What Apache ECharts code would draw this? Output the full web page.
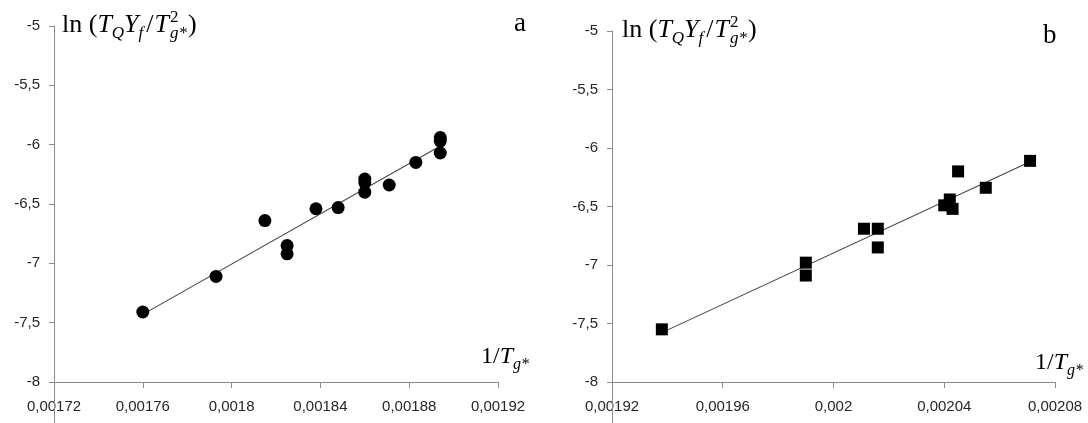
<!DOCTYPE html>
<html>
<head>
<meta charset="utf-8">
<script src="https://cdn.jsdelivr.net/npm/echarts@6/dist/echarts.min.js"></script>
<style>
html,body{margin:0;padding:0;background:#fff;}
#c{width:1088px;height:423px;}
</style>
</head>
<body>
<div id="c"></div>
<script>
// ---- data ----
var xTicksA = [0.00172, 0.00176, 0.0018, 0.00184, 0.00188, 0.00192];
var xTicksB = [0.00192, 0.00196, 0.002, 0.00204, 0.00208];
var yTicks = [-8, -7.5, -7, -6.5, -6, -5.5, -5];

var xA = [0.00176, 0.001793, 0.001815, 0.001825, 0.001825, 0.001838, 0.001848, 0.00186, 0.00186, 0.00186, 0.001871, 0.001883, 0.001894, 0.001894, 0.001894];
var yA = [-7.41, -7.11, -6.64, -6.85, -6.92, -6.54, -6.53, -6.29, -6.32, -6.40, -6.34, -6.15, -6.07, -5.94, -5.97];

var xB = [0.001938, 0.00199, 0.00199, 0.002011, 0.002016, 0.002016, 0.00204, 0.002042, 0.002043, 0.002045, 0.002055, 0.002071];
var yB = [-7.55, -6.98, -7.09, -6.69, -6.69, -6.85, -6.49, -6.44, -6.52, -6.20, -6.34, -6.11];

var panelLabels = ['a', 'b'];

// ---- helpers ----
function pairs(xs, ys) { return xs.map(function (x, i) { return [x, ys[i]]; }); }
function fitLine(xs, ys) {
  var n = xs.length, sx = 0, sy = 0, sxx = 0, sxy = 0;
  for (var i = 0; i < n; i++) { sx += xs[i]; sy += ys[i]; sxx += xs[i] * xs[i]; sxy += xs[i] * ys[i]; }
  var b = (n * sxy - sx * sy) / (n * sxx - sx * sx);
  var a = (sy - b * sx) / n;
  var x0 = Math.min.apply(null, xs), x1 = Math.max.apply(null, xs);
  return [[x0, a + b * x0], [x1, a + b * x1]];
}
function fmt(v) { return String(parseFloat(Number(v).toPrecision(6))).replace('.', ','); }

var SERIF = '"Liberation Serif", "Times New Roman", serif';
var cv = document.createElement('canvas').getContext('2d');
function fontOf(t) { return (t.italic ? 'italic ' : '') + t.size + 'px ' + SERIF; }
function layout(tokens, x, base) {
  var els = [], cx = x, stackW = 0;
  tokens.forEach(function (t) {
    cv.font = fontOf(t);
    var w = cv.measureText(t.t).width + (t.pad || 0);
    var by = base + (t.dy || 0);
    els.push({ type: 'text', x: cx + (t.lpad || 0), y: by - 0.33 * t.size, z: 100,
      style: { text: t.t, font: fontOf(t), fill: '#000', textAlign: 'left', textVerticalAlign: 'middle' } });
    w += (t.lpad || 0);
    if (t.stack) { stackW = Math.max(stackW, w); }
    else { cx += Math.max(w, stackW); stackW = 0; }
  });
  return els;
}
function yNameTokens() {
  return [
    { t: 'ln (', size: 26 },
    { t: 'T', size: 26, italic: true },
    { t: 'Q', size: 17, italic: true, dy: 5 },
    { t: 'Y', size: 26, italic: true },
    { t: 'f', size: 17, italic: true, dy: 5, pad: 3 },
    { t: '/', size: 26, pad: 1 },
    { t: 'T', size: 26, italic: true },
    { t: '2', size: 17, dy: -11, stack: true, lpad: 1 },
    { t: 'g*', size: 17, italic: true, dy: 5, lpad: 1 },
    { t: ')', size: 26, lpad: 1 }
  ];
}
function xNameTokens() {
  return [
    { t: '1/', size: 24 },
    { t: 'T', size: 24, italic: true },
    { t: 'g*', size: 16, italic: true, dy: 5 }
  ];
}

var axisCol = '#8c8c8c';
var labelStyle = { color: '#262626', fontSize: 15, fontFamily: '"Liberation Sans", Arial, sans-serif' };

function xAxisCfg(idx, ticks) {
  return {
    type: 'value', gridIndex: idx, min: ticks[0], max: ticks[ticks.length - 1], interval: 0.00004,
    splitLine: { show: false },
    axisLine: { lineStyle: { color: axisCol, width: 1 } },
    axisTick: { show: true, length: 6, lineStyle: { color: axisCol } },
    axisLabel: Object.assign({ margin: 17, formatter: fmt, showMinLabel: true, showMaxLabel: true }, labelStyle)
  };
}
function yAxisCfg(idx) {
  return {
    type: 'value', gridIndex: idx, min: yTicks[0], max: yTicks[yTicks.length - 1], interval: 0.5,
    splitLine: { show: false },
    axisLine: { show: true, onZero: false, lineStyle: { color: axisCol, width: 1 } },
    axisTick: { show: true, length: 5, lineStyle: { color: axisCol } },
    axisLabel: Object.assign({ margin: 14, formatter: fmt }, labelStyle)
  };
}

var chart = echarts.init(document.getElementById('c'), null, { renderer: 'canvas' });
var option = {
  animation: false,
  backgroundColor: '#fff',
  grid: [
    { left: 54, right: 590, top: 26, bottom: 41 },
    { left: 612, right: 33, top: 31, bottom: 41 }
  ],
  xAxis: [xAxisCfg(0, xTicksA), xAxisCfg(1, xTicksB)],
  yAxis: [yAxisCfg(0), yAxisCfg(1)],
  series: [
    { type: 'line', xAxisIndex: 0, yAxisIndex: 0, data: fitLine(xA, yA), symbol: 'none',
      lineStyle: { color: '#444', width: 1.1 }, z: 2 },
    { type: 'scatter', xAxisIndex: 0, yAxisIndex: 0, data: pairs(xA, yA), symbol: 'circle', symbolSize: 13,
      itemStyle: { color: '#000', opacity: 1 }, z: 3 },
    { type: 'line', xAxisIndex: 1, yAxisIndex: 1, data: fitLine(xB, yB), symbol: 'none',
      lineStyle: { color: '#444', width: 1.1 }, z: 2 },
    { type: 'scatter', xAxisIndex: 1, yAxisIndex: 1, data: pairs(xB, yB), symbol: 'rect', symbolSize: 12,
      itemStyle: { color: '#000', opacity: 1 }, z: 3 }
  ]
};
chart.setOption(option);

// decorations: axis names, panel letters, y-axis line continuing below the x axis
var g = [];
g = g.concat(layout(yNameTokens(), 62, 34));
g = g.concat(layout(yNameTokens(), 622, 39));
g = g.concat(layout(xNameTokens(), 481, 365));
g = g.concat(layout(xNameTokens(), 1035, 371));
g = g.concat(layout([{ t: panelLabels[0], size: 27 }], 514, 33));
g = g.concat(layout([{ t: panelLabels[1], size: 27 }], 1043, 45));
[0, 1].forEach(function (i) {
  var xs = i === 0 ? xTicksA : xTicksB;
  var p = chart.convertToPixel({ gridIndex: i }, [xs[0], yTicks[0]]);
  g.push({ type: 'line', z: 50, shape: { x1: Math.round(p[0]) + 0.5, y1: p[1], x2: Math.round(p[0]) + 0.5, y2: 423 },
    style: { stroke: axisCol, lineWidth: 1 } });
});
chart.setOption({ graphic: g });
</script>
</body>
</html>
